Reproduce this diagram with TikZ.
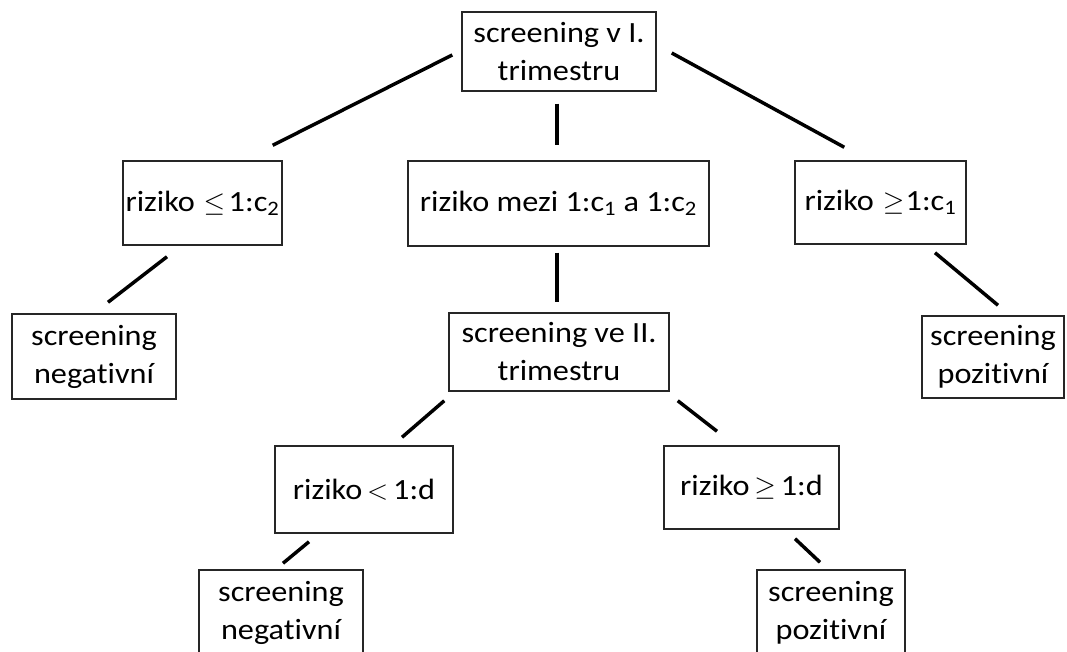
\documentclass[tikz,border=0pt]{standalone}
\usepackage{fontspec}
\setmainfont{Carlito}[Ligatures=NoCommon, FakeStretch=1.1]

\begin{document}
\begin{tikzpicture}[x=0.75pt, y=-0.75pt,
        box/.style={draw=black!85, line width=1.1pt, align=center, inner sep=0pt,
            font=\fontsize{22}{28.5}\selectfont},
        link/.style={line width=2.6pt}]
        \useasboundingbox (0,0) rectangle (1067,652);
        % first trimester
        \node[box, minimum width=145.5pt, minimum height=59.25pt] (trim1) at (559, 51.5) {screening v I.\\trimestru};
        \node[box, minimum width=119.25pt, minimum height=63pt] (riskLow) at (202.5, 203) {riziko\hspace{0.3em}$\leq$\hspace{0.12em}1:c\textsubscript{2}};
        \node[box, minimum width=225.75pt, minimum height=63.75pt] (riskMid) at (558.5, 203.5) {riziko mezi 1:c\textsubscript{1} a 1:c\textsubscript{2}};
        \node[box, minimum width=128.25pt, minimum height=62.25pt] (riskHigh) at (880.5, 202.5) {riziko\hspace{0.3em}$\geq$\hspace{0.05em}1:c\textsubscript{1}};
        \node[box, minimum width=123pt, minimum height=63.75pt] (negA) at (94, 356.5) {screening\\negativní};
        \node[box, minimum width=106.5pt, minimum height=61.5pt] (posA) at (993, 357) {screening\\pozitivní};
        % second trimester
        \node[box, minimum width=165pt, minimum height=58.5pt] (trim2) at (559, 352) {screening ve II.\\trimestru};
        \node[box, minimum width=133.5pt, minimum height=65.25pt] (riskD1) at (364, 489.5) {riziko\,$<$\,1:d};
        \node[box, minimum width=131.25pt, minimum height=62.25pt] (riskD2) at (751.5, 487.5) {riziko\,$\geq$\,1:d};
        \node[box, minimum width=123pt, minimum height=63.75pt] (negB) at (281, 612.5) {screening\\negativní};
        \node[box, minimum width=111pt, minimum height=63.75pt] (posB) at (831, 612.5) {screening\\pozitivní};
        \draw[link] ([shift={(-9,3.5)}]trim1.west) -- ([shift={(-10,-15)}]riskLow.north east);
        \draw[link] ([shift={(-2,12)}]trim1.south) -- ([shift={(-1.5,-15)}]riskMid.north);
        \draw[link] ([shift={(15,1.5)}]trim1.east) -- ([shift={(50,-13)}]riskHigh.north west);
        \draw[link] ([shift={(-35.5,11)}]riskLow.south) -- ([shift={(14,-11)}]negA.north);
        \draw[link] ([shift={(-1.5,6)}]riskMid.south) -- ([shift={(-2,-10)}]trim2.north);
        \draw[link] ([shift={(54.5,8)}]riskHigh.south) -- ([shift={(5,-10)}]posA.north);
        \draw[link] ([shift={(-4,9)}]trim2.south west) -- ([shift={(38,-8)}]riskD1.north);
        \draw[link] ([shift={(8,9)}]trim2.south east) -- ([shift={(-34.5,-14)}]riskD2.north);
        \draw[link] ([shift={(-55,8)}]riskD1.south) -- ([shift={(2,-6)}]negB.north);
        \draw[link] ([shift={(43.5,9)}]riskD2.south) -- ([shift={(-11,-7)}]posB.north);
\end{tikzpicture}
\end{document}
